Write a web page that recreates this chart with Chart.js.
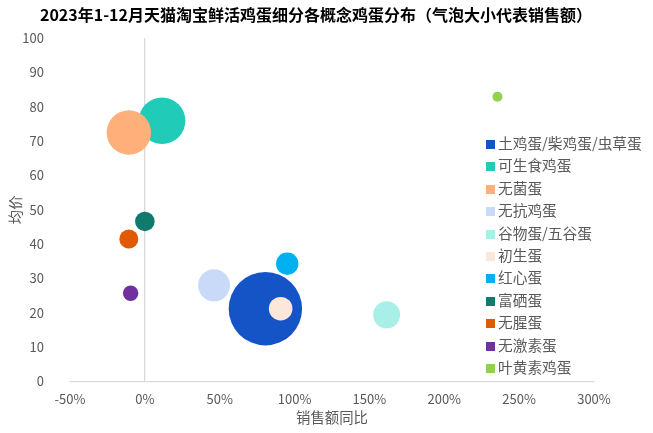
<!DOCTYPE html>
<html>
<head>
<meta charset="utf-8">
<script src="https://cdn.jsdelivr.net/npm/chart.js@4.4.0/dist/chart.umd.min.js"></script>
<style>
  body { margin: 0; background: #fff; }
  #wrap { position: relative; width: 653px; height: 433px; font-family: "Noto Sans CJK SC", "Noto Sans", sans-serif; }
  #title { position: absolute; left: 0; top: 4px; width: 632px; text-align: center; font-weight: bold; font-size: 16px; line-height: 20px; color: #000; }
  #legend { position: absolute; left: 486px; top: 132px; }
  .item { height: 22.4px; line-height: 22px; font-size: 14.7px; color: #595959; white-space: nowrap; }
  .box { display: inline-block; width: 9px; height: 9px; margin-right: 3px; vertical-align: 0px; }
</style>
</head>
<body>
<div id="wrap">
  <canvas id="bubble_chart" width="653" height="433"></canvas>
  <div id="title">2023年1-12月天猫淘宝鲜活鸡蛋细分各概念鸡蛋分布（气泡大小代表销售额）</div>
  <div id="legend"></div>
</div>
<script>
// categories + values
var CONCEPTS = ["土鸡蛋/柴鸡蛋/虫草蛋", "可生食鸡蛋", "无菌蛋", "无抗鸡蛋", "谷物蛋/五谷蛋", "初生蛋", "红心蛋", "富硒蛋", "无腥蛋", "无激素蛋", "叶黄素鸡蛋"];
var SALES_YOY = [80.5, 11.5, -10.7, 46.2, 161.5, 90.7, 95.1, 0, -10.7, -9.5, 235.5];   // 销售额同比 (%)
var AVG_PRICE = [21.2, 75.9, 72.5, 28, 19.4, 21.2, 34.3, 46.6, 41.5, 25.7, 82.9];       // 均价
var BUBBLE_R = [36.7, 23.3, 22.2, 16, 13.5, 11.8, 11.2, 9.8, 9.5, 7.7, 5];             // 销售额 (bubble radius)
var COLORS = ["#1554C6", "#20CBB8", "#FFAF7A", "#C9DAF8", "#A8EFE8", "#FDE6DA", "#00B0F0", "#107A6C", "#E05A00", "#7030A0", "#92D050"];

var X_TICKS = { min: -50, max: 300, step: 50 };
var Y_TICKS = { min: 0, max: 100, step: 10 };

var GRAY = "#595959";
var LINE = "#D9D9D9";
var FONT = "'Noto Sans CJK SC', 'Noto Sans', sans-serif";

function buildDatasets() {
  var datasets = [];
  for (var i = 0; i < CONCEPTS.length; i++) {
    datasets.push({
      label: CONCEPTS[i],
      data: [{ x: SALES_YOY[i], y: AVG_PRICE[i], r: BUBBLE_R[i] }],
      backgroundColor: COLORS[i],
      borderWidth: 0,
      hoverBorderWidth: 0,
      order: -i  // later ones on top
    });
  }
  return datasets;
}

function buildLegend() {
  var legend = document.getElementById("legend");
  for (var i = 0; i < CONCEPTS.length; i++) {
    var row = document.createElement("div");
    row.className = "item";
    var box = document.createElement("span");
    box.className = "box";
    box.style.background = COLORS[i];
    row.appendChild(box);
    row.appendChild(document.createTextNode(CONCEPTS[i]));
    legend.appendChild(row);
  }
}

var ctx = document.getElementById("bubble_chart");
var bubble_chart = new Chart(ctx, {
  type: "bubble",
  data: { datasets: buildDatasets() },
  options: {
    responsive: false,
    animation: false,
    events: [],
    layout: { padding: { top: 38, right: 59, left: 0, bottom: 0 } },
    plugins: { legend: { display: false }, title: { display: false }, tooltip: { enabled: false } },
    scales: {
      x: {
        type: "linear",
        min: X_TICKS.min,
        max: X_TICKS.max,
        afterFit: function (scale) { scale.height = 51.5; },
        ticks: {
          stepSize: X_TICKS.step,
          padding: 10,
          color: GRAY,
          font: { family: FONT, size: 13 },
          callback: function (v) { return v + "%"; }
        },
        grid: {
          drawTicks: false,
          color: function (c) { return c.tick && c.tick.value === 0 ? LINE : "rgba(0,0,0,0)"; },
          lineWidth: 1.3
        },
        border: { display: true, color: LINE, width: 1.3 },
        title: {
          display: true,
          text: "销售额同比",
          color: GRAY,
          font: { family: FONT, size: 14.4 },
          padding: { top: 0, bottom: 7 }
        }
      },
      y: {
        type: "linear",
        min: Y_TICKS.min,
        max: Y_TICKS.max,
        afterFit: function (scale) { scale.width = 70; },
        ticks: {
          stepSize: Y_TICKS.step,
          padding: 18,
          color: GRAY,
          font: { family: FONT, size: 13 }
        },
        grid: { display: false },
        border: { display: false },
        title: {
          display: true,
          text: "均价",
          color: GRAY,
          font: { family: FONT, size: 14.4 },
          padding: { top: 7, bottom: 0 }
        }
      }
    }
  }
});

buildLegend();
</script>
</body>
</html>
